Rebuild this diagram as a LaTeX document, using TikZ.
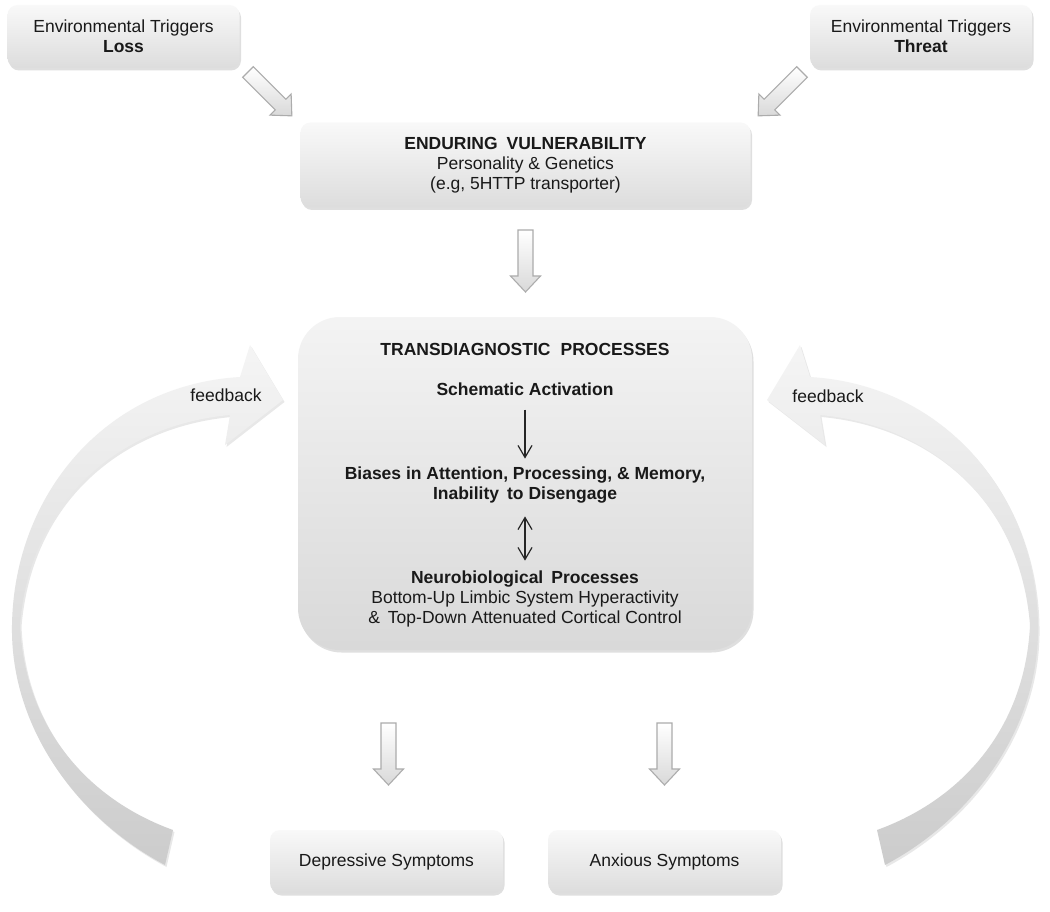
\documentclass[tikz,border=0pt]{standalone}
\usepackage{fontspec}
\setmainfont{Liberation Sans}
\usetikzlibrary{shadows,arrows.meta}
\begin{document}
\begin{tikzpicture}[x=1pt,y=-1pt,
  txt/.style={font=\fontsize{17.5}{20}\selectfont, align=center, inner sep=0pt, text=black!90},
  btxt/.style={txt, font=\fontsize{17.5}{20}\selectfont\bfseries},
  boxshadow/.style={drop shadow={opacity=0.25,shadow xshift=1.5pt,shadow yshift=-2.5pt}},
  box/.style={rounded corners=10pt, top color=gray!5, bottom color=gray!27, draw=none, boxshadow, txt},
  bigbox/.style={rounded corners=42pt, top color=gray!9, bottom color=gray!30, draw=none, boxshadow},
  barrowshape/.style={draw=gray!65, line width=1.1pt, top color=white, bottom color=gray!30},
  tarrow/.style={line width=1.2pt, black!85},
  arcband/.style={top color=gray!8, middle color=gray!36, bottom color=gray!40, draw=none,
     drop shadow={opacity=0.18,shadow xshift=1.5pt,shadow yshift=-2pt}},
  barrow/.pic={\path[barrowshape] (0,-7.5) -- (46,-7.5) -- (46,-15) -- (62,0) -- (46,15) -- (46,7.5) -- (0,7.5) -- cycle;}
]
\useasboundingbox (0,0) rectangle (1050,912);
\fill[white] (0,0) rectangle (1050,912);

% feedback arcs
\path[arcband] (165,865) .. controls (80,820) and (10,730) .. (12,625)
  .. controls (14,495) and (105,385) .. (240,377)
  -- (250,345) -- (283,400) -- (225,445) -- (230,415)
  .. controls (120,425) and (30,500) .. (20,625)
  .. controls (25,730) and (90,800) .. (173,830) -- cycle;
\begin{scope}[xshift=1050pt, xscale=-1]
\path[arcband] (165,865) .. controls (80,820) and (10,730) .. (12,625)
  .. controls (14,495) and (105,385) .. (240,377)
  -- (250,345) -- (283,400) -- (225,445) -- (230,415)
  .. controls (120,425) and (30,500) .. (20,625)
  .. controls (25,730) and (90,800) .. (173,830) -- cycle;
\end{scope}
\node[txt] (fbl) at (226,395) {feedback};
\node[txt] (fbr) at (828,396) {feedback};

% boxes
\node[box, minimum width=232pt, minimum height=63pt] (loss) at (123.5,36.5)
  {Environmental Triggers\\\textbf{Loss}};
\node[box, minimum width=222pt, minimum height=63pt] (threat) at (921,36.5)
  {Environmental Triggers\\\textbf{Threat}};
\node[box, minimum width=450pt, minimum height=85pt] (endur) at (525.5,165)
  {\textbf{ENDURING\hspace{9pt}VULNERABILITY}\\Personality \& Genetics\\(e.g, 5HTTP transporter)};
\node[bigbox, minimum width=454pt, minimum height=333pt] (tdp) at (525,483.5) {};
\node[box, minimum width=233pt, minimum height=63pt] (dep) at (386.5,861.5) {Depressive Symptoms};
\node[box, minimum width=233pt, minimum height=63pt] (anx) at (664.5,861.5) {Anxious Symptoms};

% inner texts
\node[btxt] (tp) at (525,349) {TRANSDIAGNOSTIC\hspace{10pt}PROCESSES};
\node[btxt] (sa) at (525,389) {Schematic Activation};
\node[btxt] (bi) at (525,485) {Biases in Attention, Processing, \& Memory,\\Inability\hspace{8pt}to Disengage};
\node[txt] (nb) at (525,599) {\textbf{Neurobiological\hspace{8pt}Processes}\\Bottom-Up Limbic System Hyperactivity\\\&\hspace{8pt}Top-Down Attenuated Cortical Control};

\draw[tarrow, -{Straight Barb[length=12pt,width=14pt]}, shorten <=14pt, shorten >=8pt] (sa) -- (bi);
\draw[tarrow, {Straight Barb[length=12pt,width=14pt]}-{Straight Barb[length=12pt,width=14pt]}, shorten <=13pt, shorten >=10pt] (bi) -- (nb);

% block arrows
\pic[rotate=-45] at (248,72) {barrow};
\pic[rotate=-135] at (802,72) {barrow};
\pic[rotate=-90] at (525.5,230) {barrow};
\pic[rotate=-90] at (388.5,723) {barrow};
\pic[rotate=-90] at (664.5,723) {barrow};
\end{tikzpicture}
\end{document}
